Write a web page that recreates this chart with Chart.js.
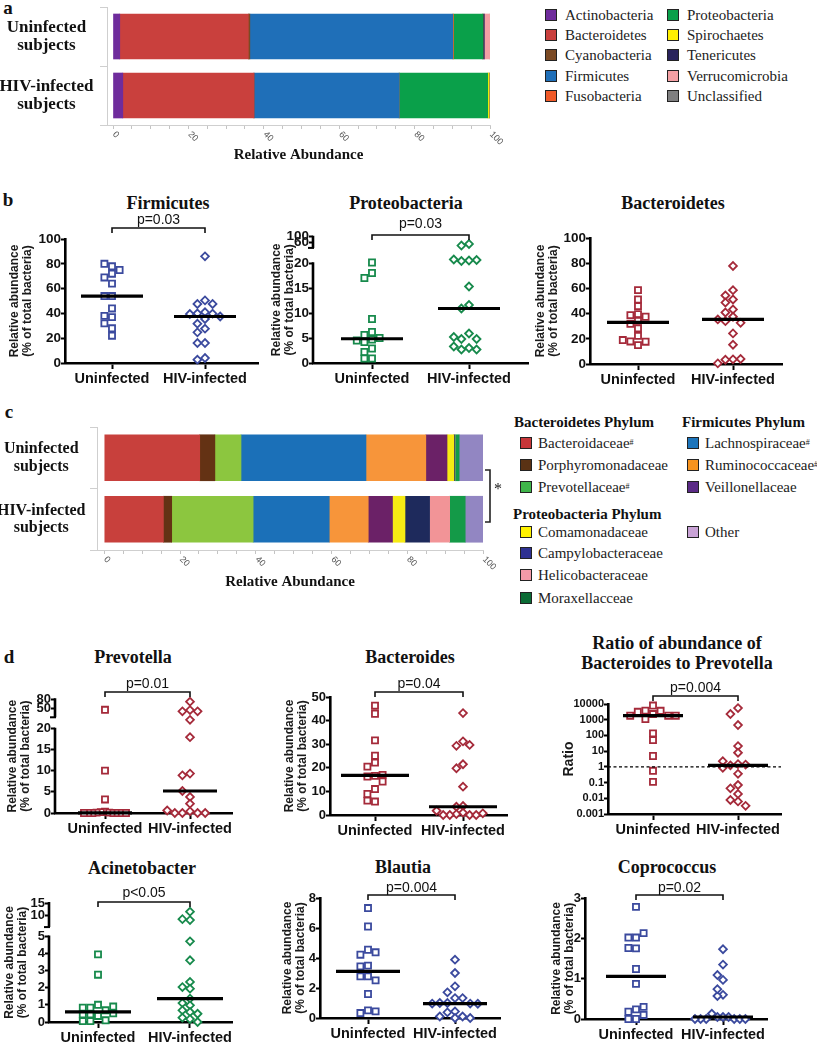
<!DOCTYPE html>
<html>
<head>
<meta charset="utf-8">
<script src="https://cdn.jsdelivr.net/npm/chart.js@4.4.1/dist/chart.umd.min.js"></script>
<style>
html,body{margin:0;padding:0;background:#fff;}
body{position:relative;width:817px;height:1050px;overflow:hidden;font-family:"Liberation Sans",Arial,sans-serif;color:#111;}
canvas{position:absolute;}
.t{position:absolute;white-space:nowrap;transform:translate(-50%,-50%);text-align:center;}
.serif{font-family:"Liberation Serif","Times New Roman",serif;}
.pl{font-weight:bold;font-size:19px;line-height:20px;}
.ti{font-weight:bold;font-size:18px;line-height:20px;}
.li{position:absolute;display:flex;align-items:center;white-space:nowrap;font-family:"Liberation Serif","Times New Roman",serif;font-size:15px;height:18px;line-height:18px;color:#222;}
.bx{box-sizing:border-box;width:12px;height:12px;border:1.5px solid #222;margin-right:8px;flex:none;}
.hd{position:absolute;white-space:nowrap;font-family:"Liberation Serif","Times New Roman",serif;font-weight:bold;font-size:15px;line-height:18px;color:#111;}
sup{font-size:8px;vertical-align:7px;line-height:0;}
</style>
</head>
<body>
<script>
// ================= DATA =================
const groups = ['Uninfected', 'HIV-infected'];
const subjectLabels = [['Uninfected', 'subjects'], ['HIV-infected', 'subjects']];
const abundanceTicks = [0, 20, 40, 60, 80, 100];

// panel a : phylum level relative abundance (%)
const phyla = ['Actinobacteria', 'Bacteroidetes', 'Cyanobacteria', 'Firmicutes', 'Fusobacteria',
               'Proteobacteria', 'Spirochaetes', 'Tenericutes', 'Verrucomicrobia', 'Unclassified'];
const phylaUninfected = [1.8, 34.1, 0.4, 53.8, 0.2, 7.8, 0, 0.4, 1.5, 0];
const phylaHIV        = [2.6, 34.8, 0, 38.5, 0, 23.5, 0.35, 0, 0, 0.25];
const phylaColors = ['#6f2c9c', '#c9403d', '#7b4a24', '#1f6fb8', '#f05a28',
                     '#0aa04a', '#ffef00', '#29235c', '#f4a0a4', '#7f7f80'];

// panel c : family level relative abundance (%)
const families = ['Bacteroidaceae', 'Porphyromonadaceae', 'Prevotellaceae', 'Lachnospiraceae',
                  'Ruminococcaceae', 'Veillonellaceae', 'Comamonadaceae', 'Campylobacteraceae',
                  'Helicobacteraceae', 'Moraxellacceae', 'Other'];
const famUninfected = [25.2, 4.0, 6.9, 33.0, 15.8, 5.6, 1.8, 0.2, 0.1, 1.1, 6.3];
const famHIV        = [15.6, 2.2, 21.5, 20.1, 10.3, 6.4, 3.3, 6.5, 5.3, 4.1, 4.7];
const famBarColors    = ['#c8403c', '#643214', '#8cc63f', '#1b70b8', '#f7953a', '#6b2167',
                         '#f6eb14', '#1e2a5c', '#f29497', '#149a48', '#9286c2'];
const famLegendColors = ['#c8373a', '#5a3214', '#3fb54a', '#1c75bc', '#f7931e', '#5b2a86',
                         '#fff200', '#2e3192', '#f49aa8', '#0b6b35', '#c9a3d6'];
const famMarked = ['Bacteroidaceae', 'Prevotellaceae', 'Lachnospiraceae', 'Ruminococcaceae'];

// panel b : per-subject relative abundance (%)
const firmicutesUninf = [78, 80, 75, 72, 69, 64, 54, 54, 44, 37, 38, 32, 28, 22];
const firmicutesHIV   = [86, 50.5, 47.6, 47.6, 41, 40, 39.8, 39.5, 37.5, 35.5, 31.7, 27.7, 24.7, 16.1, 16.1, 4, 2.7];
const proteoUninf = [20.1, 18, 17, 8.8, 6.2, 5.6, 5.0, 4.7, 4.5, 4.2, 2.9, 2.2, 0.9, 0.9];
const proteoHIV   = [48, 37, 20.5, 20.4, 20.6, 20.7, 15.3, 11.6, 10.9, 5.9, 4.8, 4.8, 5.2, 3.0, 2.7, 2.7, 3.3];
const bacteroidetesUninf = [58.6, 51.2, 45.9, 39.6, 38.8, 37.5, 34.3, 31.9, 28.2, 22.4, 17.9, 17.7, 19, 15];
const bacteroidetesHIV   = [77.8, 58.6, 54.4, 51.2, 48.8, 43.3, 40.9, 37.5, 34, 32.7, 35.4, 24.3, 15.3, 3.7, 3.4, 4, 0.5];

// panel d : genus level
const prevotellaUninf = [45, 10, 3.2, 0.3, 0.2, 0.1, 0.1, 0, 0, 0, 0, 0, 0, 0];
const prevotellaHIV   = [72, 44, 40, 40, 22, 17.9, 9.3, 8.9, 3.8, 5.2, 2.2, 0.4, 0, 0, 0, 0, 0.6];
const bacteroidesUninf = [46.3, 42.9, 31.6, 25.1, 22.2, 20.5, 16.6, 16.3, 17, 14.2, 11, 8.9, 5.7, 6.1];
const bacteroidesHIV   = [43.2, 31.2, 29.3, 29.7, 21.5, 19.8, 12, 3.8, 3.5, 1, 0.4, 0, 0, 0, 0, 0.7, 1.8];
const ratioUninf = [8000, 3800, 3700, 3200, 2300, 1800, 1800, 1800, 1100, 135, 51, 4.9, 0.56, 0.11];
const ratioHIV   = [5500, 2300, 460, 21, 7.9, 1.5, 1.25, 1.4, 2.3, 0.87, 0.36, 0.07, 0.043, 0.019, 0.0078, 0.0063, 0.0033];
const acinetoUninf = [3.93, 2.75, 1.0, 0.83, 0.68, 0.83, 0.9, 0.35, 0.5, 0.45, 0.1, 0.05, 0.05, 0.45];
const acinetoHIV   = [11.4, 7.9, 8.3, 4.69, 3.59, 2.33, 2.03, 1.94, 1.36, 1.1, 0.97, 0.58, 0.68, 0.48, 0.25, 0.17, 0];
const blautiaUninf = [7.33, 6.1, 4.55, 4.22, 4.38, 3.49, 3.44, 2.78, 2.78, 2.51, 1.6, 0.51, 0.33, 0.44];
const blautiaHIV   = [3.89, 3.0, 2.11, 1.71, 1.33, 1.33, 1.0, 1.0, 0.96, 0.96, 0.95, 0.44, 0.38, 0.1, 0.1, 0, 0];
const coproUninf = [2.78, 2.02, 2.02, 2.13, 1.75, 1.76, 1.24, 0.87, 0.24, 0.18, 0.3, 0.1, 0, 0];
const coproHIV   = [1.73, 1.35, 0.97, 1.09, 0.6, 0.57, 0.74, 0.05, 0.05, 0.05, 0.13, 0, 0, 0, 0, 0, 0];

const ticks100 = [0, 20, 40, 60, 80, 100];
const ticks50 = [0, 10, 20, 30, 40, 50];
const ticks8 = [0, 2, 4, 6, 8];
const ticks3 = [0, 1, 2, 3];
const ticksLog = [0.001, 0.01, 0.1, 1, 10, 100, 1000, 10000];

// ================= SETUP =================
const SANS = '"Liberation Sans", Arial, sans-serif';
const SERIF = '"Liberation Serif", "Times New Roman", serif';
Chart.defaults.animation = false;
Chart.defaults.responsive = false;
Chart.defaults.devicePixelRatio = 1;
Chart.defaults.font.family = SANS;
Chart.defaults.color = '#111';
Chart.defaults.plugins.legend.display = false;
Chart.defaults.plugins.tooltip.enabled = false;

function addText(html, cls, x, y, extra) {
  const d = document.createElement('div');
  d.className = cls; d.innerHTML = html;
  d.style.left = x + 'px'; d.style.top = y + 'px';
  if (extra) Object.assign(d.style, extra);
  document.body.appendChild(d);
  return d;
}
function makeCanvas(left, top, w, h) {
  const c = document.createElement('canvas');
  c.width = w; c.height = h;
  c.style.left = left + 'px'; c.style.top = top + 'px';
  c.style.width = w + 'px'; c.style.height = h + 'px';
  document.body.appendChild(c);
  return c;
}
const median = a => { const s = [...a].sort((p, q) => p - q); const n = s.length;
  return n % 2 ? s[(n - 1) / 2] : (s[n / 2 - 1] + s[n / 2]) / 2; };

// ================= STACKED BARS (a, c) =================
function stackChart(o) {
  const cv = makeCanvas(o.left, o.top, o.width, o.height);
  const unit = (o.hundredX - o.zeroX) / 100;
  const xmin = -(o.zeroX - o.areaLeft) / unit;
  const xmax = 100 + (o.areaRight - o.hundredX) / unit;
  const rot = {
    id: 'rot',
    afterDraw(chart) {
      const xs = chart.scales.x, ctx = chart.ctx;
      ctx.save();
      ctx.font = '9px ' + SANS; ctx.fillStyle = '#555';
      abundanceTicks.forEach(v => {
        ctx.save();
        ctx.translate(xs.getPixelForValue(v) + 1, xs.top + 8);
        ctx.rotate(Math.PI / 4);
        ctx.textAlign = 'left'; ctx.textBaseline = 'middle';
        ctx.fillText(String(v), 0, 0);
        ctx.restore();
      });
      if (o.sig) {
        const s = o.sig, X = s.x - o.left, Y0 = s.y0 - o.top, Y1 = s.y1 - o.top;
        ctx.strokeStyle = '#222'; ctx.lineWidth = 1.6;
        ctx.beginPath(); ctx.moveTo(X - 5, Y0); ctx.lineTo(X, Y0); ctx.lineTo(X, Y1); ctx.lineTo(X - 5, Y1); ctx.stroke();
        ctx.fillStyle = '#222'; ctx.font = '16px ' + SERIF; ctx.textAlign = 'center'; ctx.textBaseline = 'middle';
        ctx.fillText('*', s.sx - o.left, s.sy - o.top);
      }
      ctx.restore();
    }
  };
  return new Chart(cv, {
    type: 'bar',
    data: {
      labels: subjectLabels,
      datasets: o.series.map((d, i) => ({
        label: o.names[i], data: d, backgroundColor: o.colors[i], borderWidth: 0, barThickness: o.barThickness
      }))
    },
    options: {
      indexAxis: 'y',
      layout: { padding: { top: o.areaTop - o.top, right: o.left + o.width - o.areaRight, bottom: 0, left: 0 } },
      scales: {
        x: {
          type: 'linear', stacked: true, min: xmin, max: xmax, bounds: 'data',
          afterBuildTicks: s => { const t = []; for (let v = 0; v <= 100; v += 5) t.push({ value: v }); s.ticks = t; },
          afterFit: s => { s.height = o.top + o.height - o.areaBottom; },
          grid: { drawOnChartArea: false, tickLength: 4, color: '#c4c4c4', tickWidth: 1 },
          border: { color: '#cfcfcf', width: 1 },
          ticks: { display: false },
          title: { display: true, text: 'Relative Abundance', color: '#111',
                   font: { family: SERIF, weight: 'bold', size: 15, lineHeight: 1.2 }, padding: { top: 0, bottom: o.titlePad } }
        },
        y: {
          type: 'category', stacked: true,
          afterFit: s => { s.width = o.areaLeft - o.left; },
          grid: { drawOnChartArea: false, tickLength: 7, color: '#cfcfcf', tickWidth: 1 },
          border: { color: '#cfcfcf', width: 1 },
          ticks: { font: { family: SERIF, weight: 'bold', size: o.labelSize, lineHeight: 1.08 }, color: '#111',
                   crossAlign: 'center', padding: o.tickPad }
        }
      }
    },
    plugins: [rot]
  });
}

// ================= DOT PLOTS (b, d) =================
function dotPlot(spec) {
  const g = spec.g;
  const L = Math.round(g.titleX - 12), T = Math.round(g.topY - 52);
  const R = Math.round(g.rightX + 52), B = Math.round(g.botY + 32);
  const cv = makeCanvas(L, T, R - L, B - T);
  const unitPx = g.catH - g.catU;
  const xmin = (g.axisX - g.catU) / unitPx, xmax = 1 + (g.rightX - g.catH) / unitPx;
  const brk = spec.brk;
  const disp = v => (!brk || v <= brk.lowTop) ? v :
    brk.dispFrom + (v - brk.upFrom) * (brk.dispTo - brk.dispFrom) / (brk.upTo - brk.upFrom);
  let tickVals, tickLabels;
  if (brk) {
    const all = brk.lowerTicks.concat(brk.upperTicks);
    tickVals = all.map(disp); tickLabels = all.map(String);
  } else { tickVals = spec.ticks; tickLabels = spec.ticks.map(String); }
  const yMin = spec.log ? spec.ticks[0] : 0;
  const yMax = brk ? brk.dispTo : spec.ticks[spec.ticks.length - 1];
  const hw = (spec.medW || 62) / 2 / unitPx;
  const mline = (c, m) => ({ type: 'line', data: [{ x: c - hw, y: disp(m) }, { x: c + hw, y: disp(m) }],
    borderColor: '#000', borderWidth: 3.2, pointRadius: 0, clip: false, order: 0 });
  const pts = (vals, c, style, r) => ({ type: 'scatter', data: vals.map(v => ({ x: c, y: disp(v) })),
    pointStyle: style, pointRadius: r, pointBorderColor: spec.color, pointBackgroundColor: '#fff',
    pointBorderWidth: 1.8, borderColor: spec.color, backgroundColor: '#fff', clip: false, order: 2 });
  const datasets = [mline(0, median(spec.u)), mline(1, median(spec.h))];
  if (spec.refLine) datasets.push({ type: 'line', data: [{ x: xmin, y: 1 }, { x: xmax, y: 1 }],
    borderColor: '#000', borderWidth: 1.4, borderDash: [3, 2.5], pointRadius: 0, order: 1 });
  const iu = datasets.length; datasets.push(pts(spec.u, 0, 'rect', 4.3));
  const ih = datasets.length; datasets.push(pts(spec.h, 1, 'rectRot', 3.9));

  const annot = {
    id: 'annot',
    beforeDatasetsDraw(chart) {
      if (!brk) return;
      const ctx = chart.ctx, ys = chart.scales.y, ax = chart.chartArea.left;
      ctx.save(); ctx.strokeStyle = '#000'; ctx.lineWidth = 2.6; ctx.lineCap = 'butt';
      ctx.beginPath();
      ctx.moveTo(ax, ys.getPixelForValue(0) + 1); ctx.lineTo(ax, ys.getPixelForValue(brk.lowEnd));
      ctx.moveTo(ax, ys.getPixelForValue(brk.dispFrom)); ctx.lineTo(ax, ys.getPixelForValue(brk.dispTo) - 1);
      ctx.stroke();
      ctx.lineWidth = 2;
      ctx.beginPath();
      ctx.moveTo(ax - 5, ys.getPixelForValue(brk.dispFrom)); ctx.lineTo(ax + 1, ys.getPixelForValue(brk.dispFrom));
      ctx.stroke();
      ctx.restore();
    },
    afterDraw(chart) {
      if (!spec.p) return;
      const ctx = chart.ctx, xs = chart.scales.x;
      const x0 = xs.getPixelForValue(0), x1 = xs.getPixelForValue(1), by = g.brY - T;
      ctx.save(); ctx.strokeStyle = '#111'; ctx.lineWidth = 1.6;
      ctx.beginPath(); ctx.moveTo(x0, by + 5); ctx.lineTo(x0, by); ctx.lineTo(x1, by); ctx.lineTo(x1, by + 5); ctx.stroke();
      ctx.font = '14px ' + SANS; ctx.fillStyle = '#111'; ctx.textAlign = 'center'; ctx.textBaseline = 'alphabetic';
      ctx.fillText(spec.p, (x0 + x1) / 2, g.pY - T);
      ctx.restore();
    }
  };

  const ytSize = spec.ytitleSize || 12;
  const chart = new Chart(cv, {
    type: 'scatter',
    data: { datasets },
    options: {
      layout: { padding: { top: g.topY - T, right: R - g.rightX, bottom: 0, left: 0 } },
      scales: {
        x: {
          type: 'linear', min: xmin, max: xmax, bounds: 'data',
          afterBuildTicks: s => { s.ticks = [{ value: 0 }, { value: 1 }]; },
          afterFit: s => { s.height = B - g.botY; },
          ticks: { callback: (v, i) => groups[i], font: { weight: 'bold', size: 14.5 }, color: '#111',
                   padding: 1, maxRotation: 0, autoSkip: false },
          grid: { drawOnChartArea: false, tickLength: 6, tickWidth: 2, color: '#000' },
          border: { display: true, color: '#000', width: 2.6 }
        },
        y: {
          type: spec.log ? 'logarithmic' : 'linear', min: yMin, max: yMax, bounds: 'data',
          afterBuildTicks: s => { s.ticks = tickVals.map(v => ({ value: v })); },
          afterFit: s => { s.width = g.axisX - L; },
          ticks: { callback: (v, i) => tickLabels[i], font: { weight: 'bold', size: spec.tickSize || 13 },
                   color: '#111', padding: 0, autoSkip: false },
          grid: { drawOnChartArea: false, tickLength: 4, tickWidth: 2, color: '#000' },
          border: { display: !brk, color: '#000', width: 2.6 },
          title: { display: true, text: spec.ytitle, color: '#1a1a1a',
                   font: { weight: 'bold', size: ytSize, lineHeight: 13 / ytSize },
                   padding: { top: 5.5, bottom: 0 } }
        }
      }
    },
    plugins: [annot]
  });

  // scatter-dot (column) arrangement of tied values, computed in pixel space from the y scale
  const ys = chart.scales.y;
  [[iu, 0, spec.dxU || 7.6], [ih, 1, spec.dxH || 7.6]].forEach(([di, cat, dx]) => {
    const placed = [];
    chart.data.datasets[di].data.forEach(p => {
      const py = ys.getPixelForValue(p.y);
      let col = 0;
      for (let k = 0; k < 60; k++) {
        const c = k === 0 ? 0 : (k % 2 ? -Math.ceil(k / 2) : k / 2);
        if (!placed.some(q => q.c === c && Math.abs(q.py - py) < 6.5)) { col = c; break; }
      }
      placed.push({ c: col, py });
      p.x = cat + col * dx / unitPx;
    });
  });
  chart.update('none');
  return chart;
}

// ================= BUILD =================
// panel letters
addText('a', 't serif pl', 8, 8);
addText('b', 't serif pl', 8, 200);
addText('c', 't serif pl', 9, 412);
addText('d', 't serif pl', 9, 657);

// panel a
stackChart({ left: 0, top: -30, width: 515, height: 198, areaLeft: 107, areaRight: 490, areaTop: 7, areaBottom: 125,
  zeroX: 113, hundredX: 490, labelSize: 17, tickPad: 6.5, barThickness: 45, titlePad: 4,
  series: phyla.map((_, i) => [phylaUninfected[i], phylaHIV[i]]), names: phyla, colors: phylaColors });
phyla.forEach((name, i) => {
  const col = i < 5 ? 0 : 1, row = i % 5;
  const rowsY = [15, 35, 55, 76, 96];
  addText('<span class="bx" style="background:' + phylaColors[i] + '"></span>' + name, 'li',
          col ? 667 : 545, rowsY[row] - 9);
});

// panel c
stackChart({ left: 0, top: 380, width: 508, height: 212, areaLeft: 97, areaRight: 483, areaTop: 427, areaBottom: 550,
  zeroX: 104.3, hundredX: 483, labelSize: 16, tickPad: 4.5, barThickness: 46, titlePad: 1,
  series: families.map((_, i) => [famUninfected[i], famHIV[i]]), names: families, colors: famBarColors,
  sig: { x: 490, y0: 470, y1: 522, sx: 498, sy: 490 } });
addText('Bacteroidetes Phylum', 'hd', 514, 413);
addText('Firmicutes Phylum', 'hd', 682, 413);
addText('Proteobacteria Phylum', 'hd', 513, 505);
const famPos = [[520, 443], [520, 465], [520, 487], [687, 443], [687, 465], [687, 487],
                [520, 532], [520, 553], [520, 575], [520, 598], [687, 532]];
families.forEach((name, i) => {
  const mark = famMarked.includes(name) ? '<sup>#</sup>' : '';
  addText('<span class="bx" style="background:' + famLegendColors[i] + ';margin-right:6px"></span>' + name + mark,
          'li', famPos[i][0], famPos[i][1] - 9);
});

// dot plot titles
addText('Firmicutes', 't serif ti', 168, 203);
addText('Proteobacteria', 't serif ti', 406, 203);
addText('Bacteroidetes', 't serif ti', 673, 203);
addText('Prevotella', 't serif ti', 133, 657);
addText('Bacteroides', 't serif ti', 410, 657);
addText('Ratio of abundance of<br>Bacteroides to Prevotella', 't serif ti', 677, 653);
addText('Acinetobacter', 't serif ti', 142, 868);
addText('Blautia', 't serif ti', 403, 867);
addText('Coprococcus', 't serif ti', 667, 867);

const BLUE = '#3b4a9e', GREEN = '#178a4c', RED = '#a52a3a';
const YT = ['Relative abundance', '(% of total bacteria)'];

[
  { g: { axisX: 65, topY: 239, botY: 363, rightX: 258, catU: 112, catH: 205, titleX: 15, brY: 228, pY: 224 },
    u: firmicutesUninf, h: firmicutesHIV, color: BLUE, ticks: ticks100, p: 'p=0.03', ytitle: YT, tickSize: 13.5 },
  { g: { axisX: 313, topY: 236.7, botY: 363, rightX: 528, catU: 372, catH: 469, titleX: 277, brY: 235, pY: 228 },
    u: proteoUninf, h: proteoHIV, color: GREEN, p: 'p=0.03', ytitle: YT, tickSize: 13.5,
    brk: { lowTop: 21, lowEnd: 20.15, upFrom: 20, upTo: 100, dispFrom: 23.02, dispTo: 25.26,
           lowerTicks: [0, 5, 10, 15, 20], upperTicks: [60, 100] } },
  { g: { axisX: 590, topY: 238, botY: 364, rightX: 782, catU: 638, catH: 733, titleX: 541 },
    u: bacteroidetesUninf, h: bacteroidetesHIV, color: RED, ticks: ticks100, ytitle: YT, tickSize: 13.5 },
  { g: { axisX: 55, topY: 699.3, botY: 813, rightX: 232, catU: 105, catH: 190, titleX: 13, brY: 692, pY: 688 },
    u: prevotellaUninf, h: prevotellaHIV, color: RED, p: 'p=0.01', ytitle: YT, dxU: 4.2, medW: 54,
    brk: { lowTop: 22.5, lowEnd: 20.15, upFrom: 20, upTo: 80, dispFrom: 22.6, dispTo: 26.85,
           lowerTicks: [0, 5, 10, 15, 20], upperTicks: [50, 80] } },
  { g: { axisX: 330, topY: 697, botY: 815, rightX: 507, catU: 375, catH: 463, titleX: 290, brY: 692, pY: 688 },
    u: bacteroidesUninf, h: bacteroidesHIV, color: RED, ticks: ticks50, p: 'p=0.04', ytitle: YT, medW: 68, dxH: 6.6 },
  { g: { axisX: 608, topY: 704, botY: 814, rightX: 781, catU: 653, catH: 738, titleX: 569, brY: 696, pY: 692 },
    u: ratioUninf, h: ratioHIV, color: RED, ticks: ticksLog, log: true, refLine: true, p: 'p=0.004',
    ytitle: 'Ratio', ytitleSize: 14, tickSize: 11, medW: 60 },
  { g: { axisX: 49, topY: 903, botY: 1022, rightX: 232, catU: 98, catH: 190, titleX: 10, brY: 902, pY: 897 },
    u: acinetoUninf, h: acinetoHIV, color: GREEN, p: 'p<0.05', ytitle: YT, medW: 66,
    brk: { lowTop: 5.2, lowEnd: 5.03, upFrom: 5, upTo: 15, dispFrom: 5.52, dispTo: 6.92,
           lowerTicks: [0, 1, 2, 3, 4, 5], upperTicks: [10, 15] } },
  { g: { axisX: 320, topY: 898, botY: 1018, rightX: 500, catU: 368, catH: 455, titleX: 288, brY: 895, pY: 892 },
    u: blautiaUninf, h: blautiaHIV, color: BLUE, ticks: ticks8, p: 'p=0.004', ytitle: YT, medW: 64 },
  { g: { axisX: 585, topY: 898, botY: 1019, rightX: 767, catU: 636, catH: 723, titleX: 557, brY: 895, pY: 892 },
    u: coproUninf, h: coproHIV, color: BLUE, ticks: ticks3, p: 'p=0.02', ytitle: YT, medW: 60, dxH: 5.6 }
].forEach(dotPlot);
</script>
</body>
</html>
